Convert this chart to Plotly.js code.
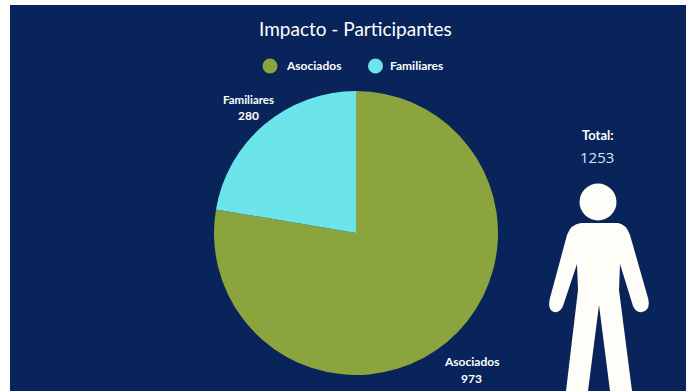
<!DOCTYPE html>
<html>
<head>
<meta charset="utf-8">
<script src="https://cdn.plot.ly/plotly-3.0.1.min.js"></script>
<style>html,body{margin:0;padding:0;background:#fff}</style>
</head>
<body>
<div id="chart" style="width:686px;height:391px"></div>
<script>
// Participant counts by group
const categories = ["Asociados", "Familiares"];
const participants = [973, 280];
const sliceColors = ["#8BA43E", "#6CE5EA"];
const chartTitle = "Impacto - Participantes";
const totalLabel = "Total:";
const totalValue = "1253";

const W = 686, H = 391;
const INK = "#FFFDF8";
const NAVY = "#08245A";
const labelFont = {family: "Lato, 'Noto Sans', sans-serif", color: "#FFFFFF", size: 11, weight: 700};

const pie = {
  type: "pie",
  labels: categories,
  values: participants,
  sort: false,
  direction: "clockwise",
  rotation: 0,
  marker: {colors: sliceColors, line: {width: 0}},
  textinfo: "none",
  hoverinfo: "label+value",
  showlegend: false,
  domain: {x: [214 / W, 498 / W], y: [(H - 375) / H, (H - 91) / H]}
};

function text(x, y, str, size, extra) {
  return Object.assign({
    xref: "x", yref: "y", x: x, y: y, text: str, showarrow: false,
    xanchor: "center", yanchor: "middle",
    font: Object.assign({}, labelFont, {size: size})
  }, extra || {});
}

function dot(cx, cy, r, color) {
  return {type: "circle", xref: "x", yref: "y", layer: "above",
    x0: cx - r, x1: cx + r, y0: cy - r, y1: cy + r,
    fillcolor: color, line: {width: 0}};
}

// Standing figure beside the total, cut off by the bottom edge
const body = "M 581 223 L 618 223 Q 626 224 630 235 L 648 298 Q 651 310 642 312 " +
  "Q 636 313 633 306 L 620 264 L 619 290 L 632 391 L 610 391 L 599 305 " +
  "L 588 391 L 566 391 L 578 290 L 577 264 L 563 306 " +
  "Q 560 313 554 312 Q 547 310 550 298 L 567 235 Q 571 224 581 223 Z";

const layout = {
  width: W, height: H,
  margin: {l: 0, r: 0, t: 0, b: 0},
  paper_bgcolor: "#FFFFFF",
  plot_bgcolor: "rgba(0,0,0,0)",
  showlegend: false,
  xaxis: {range: [0, W], visible: false, fixedrange: true},
  yaxis: {range: [H, 0], visible: false, fixedrange: true},
  shapes: [
    {type: "rect", xref: "x", yref: "y", layer: "below", x0: 10, x1: W, y0: 5, y1: H,
     fillcolor: NAVY, line: {width: 0}},
    dot(270, 66, 7.5, sliceColors[0]),
    dot(375.5, 66, 7.5, sliceColors[1]),
    dot(598, 202, 18.5, INK),
    {type: "path", xref: "x", yref: "y", layer: "above", path: body,
     fillcolor: INK, line: {width: 0}}
  ],
  annotations: [
    text(355.5, 28, chartTitle, 19, {font: {family: labelFont.family, color: "#FFFFFF", size: 19, weight: 400}}),
    text(313, 65.5, categories[0], 12),
    text(416, 65.5, categories[1], 12),
    text(248, 99.5, categories[1], 11.5),
    text(248, 115, String(participants[1]), 12),
    text(471, 361.5, categories[0], 12),
    text(471, 378.5, String(participants[0]), 12),
    text(597.5, 135, totalLabel, 13),
    text(597, 156.5, totalValue, 15, {font: {family: "'Open Sans', sans-serif", size: 15, color: "#DCE3EE"}})
  ]
};

Plotly.newPlot("chart", [pie], layout, {displayModeBar: false, staticPlot: true});
</script>
</body>
</html>
